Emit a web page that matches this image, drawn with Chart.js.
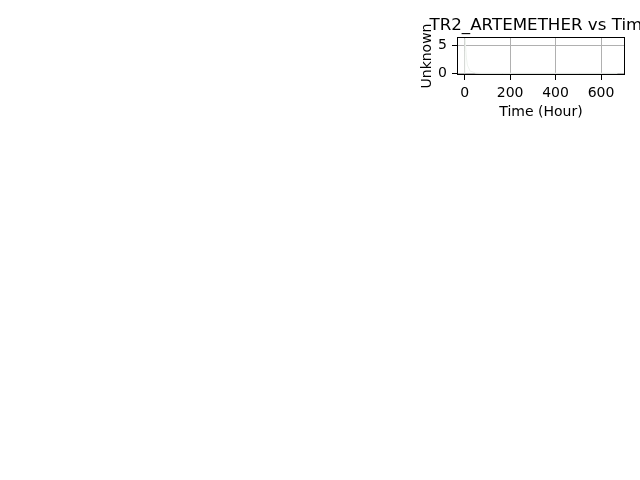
<!DOCTYPE html>
<html>
<head>
<meta charset="utf-8">
<script src="https://cdn.jsdelivr.net/npm/chart.js@4/dist/chart.umd.min.js"></script>
<style>
html,body{margin:0;padding:0;background:#fff;}
#wrap{width:640px;height:480px;}
</style>
</head>
<body>
<div id="wrap"><canvas id="c" width="640" height="480"></canvas></div>
<script>
const chartTitle = "TR2_ARTEMETHER vs Time";
const xLabel = "Time (Hour)";
const yLabel = "Unknown";
const timeHours = [0, 1, 2, 4, 8, 12, 24, 48, 72, 168, 336, 504, 672];
const values = [0, 4.2, 6.3, 5.1, 2.8, 1.5, 0.4, 0.05, 0, 0, 0, 0, 0];
const xTicks = [0, 200, 400, 600];
const yTicks = [0, 5];
const xMin = -33.6, xMax = 705.6;
const yMin = -0.315, yMax = 6.615;

const FONT = "DejaVu Sans";

const framePlugin = {
  id: 'frame',
  afterDatasetsDraw(chart) {
    const {ctx, chartArea: a} = chart;
    ctx.save();
    ctx.strokeStyle = '#000';
    ctx.lineWidth = 1;
    ctx.strokeRect(Math.round(a.left) + 0.5, Math.round(a.top) + 0.5,
                   Math.round(a.right - a.left) - 1, Math.round(a.bottom - a.top) - 1);
    ctx.restore();
  }
};
const titlePlugin = {
  id: 'mtitle',
  afterDraw(chart) {
    const {ctx, chartArea: a} = chart;
    ctx.save();
    ctx.fillStyle = '#000';
    ctx.font = '16.7px "' + FONT + '"';
    ctx.textAlign = 'center';
    ctx.textBaseline = 'alphabetic';
    ctx.fillText(chartTitle, (a.left + a.right) / 2, a.top - 7);
    ctx.restore();
  }
};

new Chart(document.getElementById('c'), {
  type: 'line',
  data: {
    datasets: [{
      data: timeHours.map((t, i) => ({x: t, y: values[i]})),
      borderColor: '#eef3ee',
      borderWidth: 1,
      pointRadius: 0,
      fill: false,
      tension: 0
    }]
  },
  options: {
    responsive: false,
    animation: false,
    layout: {padding: {left: 419, right: 15, top: 37, bottom: 359}},
    plugins: {legend: {display: false}, tooltip: {enabled: false}, title: {display: false}},
    scales: {
      x: {
        type: 'linear', min: xMin, max: xMax,
        afterBuildTicks: s => { s.ticks = xTicks.map(v => ({value: v})); },
        afterFit: s => { s.height = 46; },
        ticks: {color: '#000', font: {family: FONT, size: 14}, padding: 5, maxRotation: 0, autoSkip: false},
        grid: {color: '#b0b0b0', lineWidth: 1, tickColor: '#000', tickLength: 5, drawTicks: true},
        border: {display: false},
        title: {display: true, text: xLabel, color: '#000', font: {family: FONT, size: 14}, padding: {top: 0, bottom: 0}}
      },
      y: {
        type: 'linear', min: yMin, max: yMax,
        afterBuildTicks: s => { s.ticks = yTicks.map(v => ({value: v})); },
        afterFit: s => { s.width = 38; },
        ticks: {color: '#000', font: {family: FONT, size: 14}, padding: 5, autoSkip: false},
        grid: {color: '#b0b0b0', lineWidth: 1, tickColor: '#000', tickLength: 5, drawTicks: true},
        border: {display: false},
        title: {display: true, text: yLabel, color: '#000', font: {family: FONT, size: 14}, padding: {top: 0, bottom: 0}}
      }
    }
  },
  plugins: [framePlugin, titlePlugin]
});
</script>
</body>
</html>
